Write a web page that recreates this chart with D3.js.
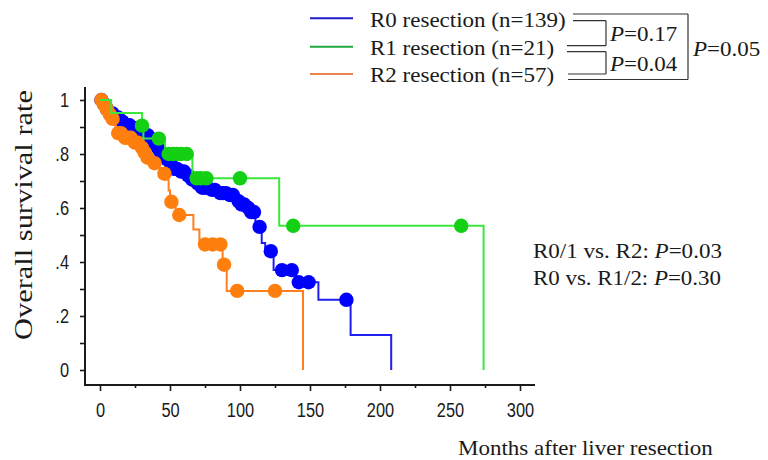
<!DOCTYPE html>
<html><head><meta charset="utf-8">
<script src="https://cdn.jsdelivr.net/npm/d3@7"></script>
<style>body{margin:0;background:#fff}svg{display:block}</style>
</head><body>
<svg id="chart" width="768" height="460"></svg>
<script>
// ---------- data ----------
const seriesNames = ["R0 resection (n=139)", "R1 resection (n=21)", "R2 resection (n=57)"];
// Kaplan-Meier steps: [months, survival]
const r0Steps = [[0,1],[2,0.985],[4,0.965],[6,0.95],[10,0.935],[14,0.92],[18,0.907],[23,0.895],[28,0.88],[31,0.87],[35,0.855],[38,0.84],[40,0.825],[42,0.81],[44,0.795],[47,0.78],[50,0.76],[52,0.745],[56,0.735],[62,0.72],[64,0.705],[68,0.69],[72,0.675],[78,0.667],[84,0.655],[92,0.648],[98,0.625],[100,0.613],[105,0.6],[108,0.585],[111,0.53],[115.5,0.47],[118,0.44],[124,0.37],[140,0.325],[156,0.26],[179,0.13],[208,0]];
const r1Steps = [[0,1],[8,0.952],[30,0.905],[31,0.857],[46.5,0.8],[66,0.71],[128,0.534],[274,0]];
const r2Steps = [[0,1],[2,0.982],[4,0.965],[6,0.947],[8,0.93],[10,0.912],[11,0.895],[12,0.877],[17,0.86],[24,0.842],[29,0.823],[31,0.805],[33,0.786],[36,0.766],[40,0.747],[44,0.727],[47,0.706],[49,0.665],[50,0.623],[54,0.574],[66.7,0.52],[71,0.465],[87.6,0.39],[90.5,0.293],[145,0]];
// censored observations (months)
const r0Censored = [1,3,5,7,9,11,13,16,19,21,24,26,29,32,34,37,39,41,43,46,48,51,53,55,58,60,63,66,70,73,75,77,80,82,86,88,90,93,95,99,101,103,106,108,110,114,122,130,137,142,149,176];
const r1Censored = [30,42,49,52,55,58,62,69,72,76,100,138,258];
const r2Censored = [1,3,5,7,9,13,15,18,20,22,25,27,30,32,34,39,46,51,56.6,75,80.5,86,88.6,98,125];

const xTickValues = [0,50,100,150,200,250,300];
const xTickLabels = ["0","50","100","150","200","250","300"];
const xMinorTicks = [25,75,125,175,225,275];
const yTickValues = [0,0.2,0.4,0.6,0.8,1];
const yTickLabels = ["0",".2",".4",".6",".8","1"];
const yMinorTicks = [0.1,0.3,0.5,0.7,0.9];

const lineColors = ["#1e1ef0","#3ce63c","#ff7f1e"];
const dotColors  = ["#0000ff","#14d014","#ff7f0e"];
const legendColors = ["#1c1cc8","#1ea83e","#e8844c"];

// ---------- setup ----------
const svg = d3.select("#chart");
const x = d3.scaleLinear().domain([0,300]).range([100,520]);
const y = d3.scaleLinear().domain([0,1]).range([370,100]);
const ink = "#1a1a1a";
const serif = "'Liberation Serif','Times New Roman',serif";

function survivalAt(steps, t){
  let s = steps[0][1];
  for (const [tt, ss] of steps){ if (tt <= t) s = ss; else break; }
  return s;
}

function addText(parent, px, py, parts, size, opt){
  opt = opt || {};
  const g = parent.append("g");
  const t = g.append("text").attr("font-family", serif).attr("font-size", size)
    .attr("fill", ink).attr("text-anchor", opt.anchor || "start");
  parts.forEach(p => {
    const ts = t.append("tspan").text(p.t);
    if (p.i) ts.attr("font-style","italic");
  });
  let sx = opt.sx || 1;
  if (opt.w) sx = opt.w / t.node().getComputedTextLength();
  g.attr("transform", `translate(${px},${py}) ${opt.rot ? "rotate("+opt.rot+")" : ""} scale(${sx},1)`);
  return g;
}

// ---------- axes ----------
const tickFont = "'Liberation Sans',Arial,sans-serif";
const xs = 0.8;
const gx = svg.append("g").attr("transform","translate(0,385)")
  .call(d3.axisBottom(x).tickValues(xTickValues).tickFormat((d,i)=>xTickLabels[i]).tickSize(6).tickPadding(11));
const gxm = svg.append("g").attr("transform","translate(0,385)")
  .call(d3.axisBottom(x).tickValues(xMinorTicks).tickFormat("").tickSize(3));
const gy = svg.append("g").attr("transform","translate(85,0)")
  .call(d3.axisLeft(y).tickValues(yTickValues).tickFormat((d,i)=>yTickLabels[i]).tickSize(5).tickPadding(11));
const gym = svg.append("g").attr("transform","translate(85,0)")
  .call(d3.axisLeft(y).tickValues(yMinorTicks).tickFormat("").tickSize(5));
[gx,gxm,gy,gym].forEach(g=>{
  g.select(".domain").remove();
  g.selectAll("line").attr("stroke",ink).attr("stroke-width",1.6);
  g.selectAll("text").attr("font-family",tickFont).attr("font-size",20.5).attr("fill",ink);
});
gx.selectAll("text").attr("transform",`scale(${xs},1)`);
gy.selectAll("text").attr("x", -16/xs).attr("transform",`scale(${xs},1)`);

svg.append("line").attr("x1",85).attr("x2",85).attr("y1",87).attr("y2",386)
  .attr("stroke",ink).attr("stroke-width",2);
svg.append("line").attr("x1",84).attr("x2",535).attr("y1",385).attr("y2",385)
  .attr("stroke",ink).attr("stroke-width",2);

// ---------- curves ----------
const line = d3.line().x(d=>x(d[0])).y(d=>y(d[1])).curve(d3.curveStepAfter);
const series = [
  {steps:r0Steps, cens:r0Censored, k:0},
  {steps:r2Steps, cens:r2Censored, k:2},
  {steps:r1Steps, cens:r1Censored, k:1}
];
series.forEach(s=>{
  const g = svg.append("g");
  g.append("path").attr("d", line(s.steps)).attr("fill","none")
    .attr("stroke", lineColors[s.k]).attr("stroke-width",2);
  g.selectAll("circle").data(s.cens).join("circle")
    .attr("cx", d=>x(d)).attr("cy", d=>y(survivalAt(s.steps,d)))
    .attr("r",7.2).attr("fill",dotColors[s.k]);
});

// ---------- titles ----------
addText(svg, 32, 215, [{t:"Overall survival rate"}], 26, {anchor:"middle", rot:-90, w:250});
addText(svg, 458, 455, [{t:"Months after liver resection"}], 22, {w:255});

// ---------- legend ----------
const legY = [18.3, 46.7, 74];
const legBase = [27, 55, 82];
seriesNames.forEach((n,i)=>{
  svg.append("line").attr("x1",310).attr("x2",353).attr("y1",legY[i]).attr("y2",legY[i])
    .attr("stroke",legendColors[i]).attr("stroke-width",2);
  addText(svg, 370, legBase[i], [{t:n}], 20, {sx:1.15});
});
const br = "#333";
const segs = [
  [573,14,688,14],[573,20.7,606,20.7],
  [567,45.7,606,45.7],[567,51.7,606,51.7],
  [568,74,606,74],[568,79.5,688,79.5],
  [606,20.7,606,45.7],[606,51.7,606,74],
  [688,14,688,79.5]
];
segs.forEach(s=>svg.append("line").attr("x1",s[0]).attr("y1",s[1]).attr("x2",s[2]).attr("y2",s[3])
  .attr("stroke",br).attr("stroke-width",1.2));
addText(svg, 610, 40.7, [{t:"P",i:1},{t:"=0.17"}], 20, {sx:1.15});
addText(svg, 610, 70.7, [{t:"P",i:1},{t:"=0.04"}], 20, {sx:1.15});
addText(svg, 693, 56, [{t:"P",i:1},{t:"=0.05"}], 20, {sx:1.15});

// ---------- annotations ----------
addText(svg, 533, 258.3, [{t:"R0/1 vs. R2: "},{t:"P",i:1},{t:"=0.03"}], 20, {w:189});
addText(svg, 533, 285, [{t:"R0 vs. R1/2: "},{t:"P",i:1},{t:"=0.30"}], 20, {w:188});
</script>
</body></html>
